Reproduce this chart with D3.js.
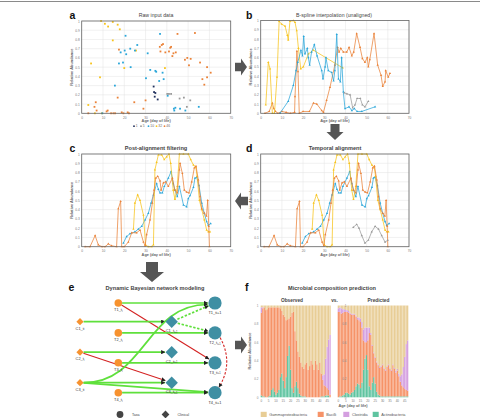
<!DOCTYPE html>
<html><head><meta charset="utf-8">
<script src="https://cdn.jsdelivr.net/npm/d3@7"></script>
<style>body{margin:0;background:#fff}svg{display:block}text{font-family:"Liberation Sans",Arial,sans-serif}</style>
</head><body><svg id="c" width="480" height="418"></svg>
<script>
// ---------------- DATA ----------------
const xTicks = [0,10,20,30,40,50,60,70];
const yTicks = [0,0.1,0.2,0.3,0.4,0.5,0.6,0.7,0.8,0.9,1];
const seriesNames = ["1","5","10","32","46"];

// panel a: raw input points [day, abundance]
const rawS1 = [[33.8,0.29],[34,0.23],[34.6,0.22],[34.3,0.18],[35.7,0.15]];
const rawS5 = [[40.2,0.21],[41,0.21],[42,0.21],[46,0.16],[48,0.17],[49.4,0.07],[51,0.14]];
const rawS10 = [[9.7,0],[15.6,0.3],[17.5,0.54],[18.3,0.66],[19.4,0.55],[20.2,0.68],[20.6,0.84],[20.9,0.64],[22.8,0.7],[23,0.5],[25,0.68],[26.1,0.74],[30.2,0.38],[31,0.65],[32.2,0.47],[34.6,0.46],[35,0.45],[36.4,0.35],[36.8,0.86],[38,0.44],[38.5,0.37],[40.4,0.19],[43.3,0.05],[43.5,0.03],[44,0.06],[46.2,0.05],[48.7,0.03],[55,0.07]];
const rawS32 = [[3.1,0.09],[4.4,0.54],[8.6,0.39],[9.1,1.0],[10.9,0.97],[12.4,0.94],[14.6,0.99],[16.9,0.96],[17.9,0.91],[14.6,0.79],[20,0.49],[25.5,0.68],[39.1,0.49],[6.2,0.0],[9.5,0.0]];
const rawS46 = [[3.1,0],[6,0.07],[6.6,0.12],[7,0.03],[11.7,0.02],[12.2,0.03],[13.8,0],[14.9,0],[15.7,0],[16.9,0.17],[17.5,0.69],[18.8,0.01],[19.6,0],[21.6,0.01],[22.2,0],[24.7,0.12],[29,0.05],[30,0.14],[36.7,0.72],[37,0.67],[37.6,0.74],[38.2,0.75],[39.3,0.66],[41,0.67],[41.6,0.71],[42,0.72],[42.6,0.62],[43.1,0.65],[44.2,0.66],[45,0.86],[48.5,0.58],[49.6,0.6],[50.4,0.52],[51.2,0.59],[53.2,0.87],[55.6,0.55],[56.7,0.37],[57.6,0.31],[58.9,0.39],[58.9,0.5],[60.6,0.44]];

// panel b: B-spline interpolation (unaligned)
const splineS5 = [[39.5,0.22],[40.7,0.21],[42.2,0.2],[43.4,0.06],[44.5,0.09],[45.5,0.16],[47,0.16],[48,0.09],[49.2,0.07],[50.8,0.13]];
const splineS10 = [[9.1,0],[13,0.13],[15.4,0.3],[16.7,0.46],[17.5,0.55],[19,0.68],[19.7,0.62],[20.3,0.83],[20.9,0.64],[22,0.7],[22.5,0.6],[23.1,0.52],[24,0.66],[25.3,0.74],[26.6,0.62],[28.8,0.46],[29.4,0.37],[30.4,0.5],[30.8,0.6],[31.9,0.46],[33.5,0.44],[34.4,0.35],[35,0.46],[35.9,0.85],[36.7,0.37],[37.6,0.34],[38.2,0.6],[39,0.23],[39.8,0.05],[41.7,0.07],[43,0.03],[44.2,0.05],[45.5,0.02],[47.7,0.02],[54,0.07]];
const splineS32 = [[2.4,0.09],[3.6,0.55],[4.4,0.48],[5.5,0],[6.5,0],[7.7,0.39],[8.7,0.99],[9.9,0.96],[11.5,0.94],[12.6,0.84],[13,0.79],[13.8,0.99],[15.4,1],[16.2,0.98],[17,0.89],[17.8,0.7],[18.9,0.48],[20.1,0.5],[22.5,0.64],[24.9,0.68],[38.7,0.49]];
const splineS46 = [[2,0],[4,0.02],[5.5,0.11],[6.2,0.05],[7,0.02],[8,0],[10,0.02],[12,0.01],[14,0],[16,0.01],[16.2,0.18],[17.1,0.67],[17.6,0.45],[18.2,0],[20,0.02],[23,0.02],[24.9,0.11],[26.5,0.1],[28.8,0.03],[29.6,0.01],[31.1,0.14],[32.7,0.28],[35,0.52],[36.3,0.71],[37,0.66],[37.8,0.7],[39,0.66],[40.6,0.66],[41.7,0.71],[43,0.62],[43.9,0.66],[45.3,0.86],[46.9,0.71],[48,0.59],[49.2,0.55],[50.3,0.6],[50.8,0.5],[51.5,0.58],[53.5,0.86],[55.2,0.52],[56.8,0.41],[57.6,0.29],[58.7,0.34],[59,0.46],[60.2,0.39],[61,0.43]];

// panels c/d: aligned series
const alignedS5 = [[43.7,0.21],[45.3,0.24],[46.4,0.2],[47.7,0.12],[49.2,0.04],[50.8,0.07],[52.4,0.16],[54,0.22],[55.6,0.19],[57.1,0.12],[58.7,0.05],[60,0.07]];
const alignedS10 = [[19.6,0.04],[21.1,0.11],[22.7,0.14],[25,0.16],[26.6,0.19],[28.2,0.22],[29.8,0.29],[31.3,0.36],[32.6,0.47],[33.7,0.56],[35.2,0.68],[36,0.62],[36.8,0.58],[37.9,0.58],[38.8,0.65],[40.7,0.74],[42,0.81],[43,0.68],[43.8,0.61],[44.9,0.54],[45.9,0.65],[47.8,0.45],[49.3,0.43],[50.1,0.52],[50.9,0.55],[52.5,0.64],[53.2,0.74],[54,0.75],[55.1,0.66],[56.4,0.47],[57.6,0.36],[58.7,0.27],[59.5,0.23],[60.6,0.25]];
const alignedS32 = [[24.3,0.19],[25,0.47],[26.3,0.56],[27.4,0.5],[29,0.34],[30,0.02],[31.3,0],[32.9,0],[33.7,0.02],[34.4,0.83],[35.2,0.91],[36,0.99],[37.6,0.99],[38.8,0.94],[39.9,0.97],[41,1],[41.8,0.9],[43,0.61],[43.8,0.51],[44.9,0.65],[45.9,1],[47.8,1],[50.1,1],[51.2,0.94],[52.5,0.88],[53.6,0.86],[54.2,0.76],[55.3,0.5],[56.4,0.4],[57.6,0.29],[58.7,0.18],[59.5,0.16],[60.3,0.16]];
const alignedS46 = [[1.6,0],[3.9,0],[6.3,0.12],[7.8,0.02],[9.5,0],[11,0],[12.5,0.03],[14,0.01],[16.4,0],[17.2,0.41],[18.3,0.49],[18.8,0],[20,0],[21.9,0.05],[23.5,0.15],[25.8,0.15],[27.4,0.18],[29,0.05],[29.8,0.01],[30.5,0.13],[32.1,0.29],[33.2,0.47],[34,0.61],[34.8,0.74],[35.7,0.76],[36.8,0.71],[37.3,0.61],[38.4,0.69],[39.5,0.7],[40.7,0.65],[42.6,0.74],[43.8,0.61],[44.9,0.58],[45.9,0.83],[46.2,0.9],[47.3,0.79],[48.2,0.61],[49.3,0.59],[50.4,0.58],[51.7,0.7],[52.9,0.85],[53.7,0.87],[54.8,0.72],[55.6,0.54],[56.4,0.41],[57.6,0.36],[58.6,0.33],[59.2,0.5],[59.7,0.22],[60,0]];

// panel e: network
const taxaNames = ["T1","T2","T3","T4"];
const clinicalNames = ["C1","C2","C3"];
const edges = [
  ["T1_t","T1_t1","pos"],["T1_t","T3_t1","neg"],["C1_t","C1_t1","pos"],["T2_t","T2_t1","pos"],
  ["C2_t","C2_t1","pos"],["C2_t","C3_t1","neg"],["T3_t","T3_t1","pos"],["C3_t","C3_t1","pos"],
  ["C3_t","T4_t1","pos"],["C3_t","T1_t1","posCurve"],["T4_t","T4_t1","pos"],
  ["C1_t1","T1_t1","posDash"],["C1_t1","T2_t1","posDash"],["T2_t1","T4_t1","negDashCurve"]
];

// panel f: composition
const days = [0,1,2,3,4,5,6,7,8,9,10,11,12,13,14,15,16,17,18,19,20,21,22,23,24,25,26,27,28,29,30,31,32,33,34,35,36,37,38,39,40,41,42,43,44,45,46,47];
const dayTicks = [0,5,10,15,20,25,30,35,40,45];
const fTicks = [0,0.2,0.4,0.6,0.8,1];
const taxaClasses = ["Gammaproteobacteria","Bacilli","Clostridia","Actinobacteria"];
const obsActino =    [.02,.01,.01,.00,.00,.01,.02,.08,.10,.06,.03,.05,.08,.22,.26,.18,.10,.22,.45,.56,.30,.10,.05,.12,.17,.10,.04,.02,.01,.01,.01,.00,.00,.00,.00,.00,.00,.00,.00,.00,.00,.01,.01,.01,.02,.02,.02,.00];
const obsBacilli =   [.90,.96,.97,.95,.96,.97,.96,.90,.88,.92,.95,.93,.90,.75,.68,.72,.78,.62,.40,.30,.58,.82,.88,.60,.45,.40,.40,.36,.32,.30,.35,.38,.30,.34,.40,.36,.30,.40,.36,.30,.38,.25,.18,.12,.10,.08,.06,.03];
const obsClostridia =[.06,.01,.00,.00,.00,.00,.00,.00,.00,.00,.00,.00,.00,.00,.00,.00,.00,.00,.00,.00,.00,.00,.00,.00,.00,.00,.00,.00,.00,.00,.00,.00,.00,.00,.00,.00,.00,.00,.00,.00,.00,.00,.05,.12,.30,.45,.55,.65];
const obsGamma =     [.02,.02,.02,.05,.04,.02,.02,.02,.02,.02,.02,.02,.02,.03,.06,.10,.12,.16,.15,.14,.12,.08,.07,.28,.38,.50,.56,.62,.67,.69,.64,.62,.70,.66,.60,.64,.70,.60,.64,.70,.62,.74,.76,.75,.58,.45,.37,.32];
const predActino =    [.00,.01,.01,.02,.03,.05,.05,.04,.03,.05,.06,.08,.12,.15,.14,.10,.16,.30,.42,.46,.30,.12,.08,.16,.22,.15,.06,.03,.02,.01,.01,.01,.01,.01,.01,.01,.01,.01,.01,.01,.01,.01,.01,.01,.01,.01,.01,.01];
const predBacilli =   [.93,.92,.90,.90,.90,.88,.88,.88,.88,.85,.84,.82,.76,.70,.70,.72,.60,.32,.18,.14,.32,.58,.60,.40,.26,.28,.32,.32,.30,.32,.34,.30,.28,.32,.34,.30,.28,.34,.30,.26,.28,.22,.16,.12,.10,.08,.07,.06];
const predClostridia =[.04,.05,.06,.04,.03,.02,.02,.02,.01,.01,.01,.01,.01,.02,.03,.04,.06,.12,.16,.16,.14,.06,.02,.01,.01,.01,.01,.01,.01,.01,.01,.01,.01,.01,.01,.01,.01,.01,.01,.02,.02,.03,.06,.12,.22,.35,.50,.55];
const predGamma =     [.03,.02,.03,.04,.04,.05,.05,.06,.08,.09,.09,.09,.11,.13,.13,.14,.18,.26,.24,.24,.24,.24,.30,.43,.51,.56,.61,.64,.67,.66,.64,.68,.70,.66,.64,.68,.70,.64,.68,.71,.69,.74,.77,.75,.67,.56,.42,.38];

// ---------------- STYLE ----------------
const colors = {"1":"#1f2f5c","5":"#9a9a9a","10":"#2aa6d9","32":"#f7c31a","46":"#ea8238"};
const classColors = {Gammaproteobacteria:"#e8cd95",Bacilli:"#f69368",Clostridia:"#d49fe0",Actinobacteria:"#5fc4a0"};
const svg = d3.select("#c");
svg.append("line").attr("x1",0).attr("x2",480).attr("y1",1.5).attr("y2",1.5).attr("stroke","#8a8a8a").attr("stroke-width",1.2);

function letter(t,x,y){svg.append("text").attr("x",x).attr("y",y).attr("font-size",10.5).attr("font-weight","bold").attr("fill","#111").text(t);}
function title(t,x,y,bold){svg.append("text").attr("x",x).attr("y",y).attr("text-anchor","middle").attr("font-size",bold?5.6:5.2).attr("font-weight",bold?"bold":"normal").attr("fill","#444").text(t);}

function plotFrame(box){
  const x = d3.scaleLinear([0,70],[box.x0,box.x1]);
  const y = d3.scaleLinear([0,1],[box.y1,box.y0]);
  const g = svg.append("g");
  g.append("rect").attr("x",box.x0).attr("y",box.y0).attr("width",box.x1-box.x0).attr("height",box.y1-box.y0).attr("fill","#fff");
  g.selectAll(".gx").data(xTicks).join("line").attr("x1",d=>x(d)).attr("x2",d=>x(d)).attr("y1",box.y0).attr("y2",box.y1).attr("stroke","#e2e2e2").attr("stroke-width",0.5);
  g.selectAll(".gy").data(yTicks).join("line").attr("y1",d=>y(d)).attr("y2",d=>y(d)).attr("x1",box.x0).attr("x2",box.x1).attr("stroke","#e2e2e2").attr("stroke-width",0.5);
  const ax = g.append("g").attr("transform",`translate(0,${box.y1})`).call(d3.axisBottom(x).tickValues(xTicks).tickSize(0).tickPadding(3));
  ax.select(".domain").remove();
  ax.selectAll("text").attr("font-size",3.2).attr("fill","#777");
  const ay = g.append("g").attr("transform",`translate(${box.x0},0)`).call(d3.axisLeft(y).tickValues(yTicks).tickSize(0).tickPadding(2).tickFormat(d=>String(d)));
  ay.select(".domain").remove();
  ay.selectAll("text").attr("font-size",3.2).attr("fill","#777");
  g.append("text").attr("x",(box.x0+box.x1)/2).attr("y",box.y1+9).attr("text-anchor","middle").attr("font-size",3.9).attr("font-weight","bold").attr("fill","#666").text("Age (day of life)");
  g.append("text").attr("transform",`translate(${box.x0-8.5},${(box.y0+box.y1)/2}) rotate(-90)`).attr("text-anchor","middle").attr("font-size",3.9).attr("font-weight","bold").attr("fill","#666").text("Relative Abundance");
  const border = svg.append("rect").attr("x",box.x0).attr("y",box.y0).attr("width",box.x1-box.x0).attr("height",box.y1-box.y0).attr("fill","none").attr("stroke","#666").attr("stroke-width",0.8);
  return {x,y,g,border};
}

function lines(p, list, curve){
  list.forEach(([name,data])=>{
    const ln = d3.line().x(d=>p.x(d[0])).y(d=>p.y(d[1])).curve(curve||d3.curveLinear);
    p.g.append("path").attr("d",ln(data)).attr("fill","none").attr("stroke",colors[name]).attr("stroke-width",0.75);
    p.g.selectAll(null).data(data).join("path").attr("transform",d=>`translate(${p.x(d[0])},${p.y(d[1])})`)
      .attr("d",d3.symbol(d3.symbolTriangle,2.2)).attr("fill",colors[name]);
  });
  p.border.raise();
}

// ---------- panel a ----------
letter("a",69.5,18.5); title("Raw input data",156,16.5,false);
const pa = plotFrame({x0:81.7,x1:230.7,y0:21,y1:113.3});
[["46",rawS46],["32",rawS32],["10",rawS10],["5",rawS5],["1",rawS1]].forEach(([name,data])=>{
  pa.g.selectAll(null).data(data).join("rect").attr("x",d=>pa.x(d[0])-0.9).attr("y",d=>pa.y(d[1])-0.9).attr("width",1.8).attr("height",1.8).attr("fill",colors[name]);
});
pa.border.raise();
// legend a
const legX = d3.scalePoint(seriesNames,[134,162]);
const legOff = {"1":0,"5":0,"10":0.5,"32":1.5,"46":2.5};
seriesNames.forEach(n=>{
  const lx = legX(n)+legOff[n];
  svg.append("circle").attr("cx",lx).attr("cy",126.2).attr("r",0.9).attr("fill",colors[n]);
  svg.append("text").attr("x",lx+1.8).attr("y",127.4).attr("font-size",3.3).attr("fill","#666").text(n);
});

// ---------- panel b ----------
letter("b",246,18.5); title("B-spline interpolation (unaligned)",334,16.5,false);
const pb = plotFrame({x0:260.7,x1:409,y0:20.5,y1:113.3});
lines(pb,[["46",splineS46],["32",splineS32],["10",splineS10],["5",splineS5]]);

// ---------- panel c ----------
letter("c",69.5,152); title("Post-alignment filtering",156,149.5,true);
const pc = plotFrame({x0:81.7,x1:230.7,y0:154,y1:246.7});
lines(pc,[["10",alignedS10],["32",alignedS32],["46",alignedS46]]);

// ---------- panel d ----------
letter("d",246,152); title("Temporal alignment",335,149.5,true);
const pd = plotFrame({x0:260.7,x1:409,y0:154,y1:246.7});
lines(pd,[["10",alignedS10],["32",alignedS32],["46",alignedS46],["5",alignedS5]]);

// ---------- block arrows ----------
function blockArrow(cx,cy,dir,len,shaftW,headW,headL,fill){
  const p = d3.path();
  const pts = [[0,-shaftW],[len-headL,-shaftW],[len-headL,-headW],[len,0],[len-headL,headW],[len-headL,shaftW],[0,shaftW]];
  const rot = {right:0,down:90,left:180}[dir];
  const a = rot*Math.PI/180;
  pts.forEach((q,i)=>{const x=cx+q[0]*Math.cos(a)-q[1]*Math.sin(a), y=cy+q[0]*Math.sin(a)+q[1]*Math.cos(a); i?p.lineTo(x,y):p.moveTo(x,y);});
  p.closePath();
  svg.append("path").attr("d",p.toString()).attr("fill",fill||"#555");
}
blockArrow(235,67,"right",12,4.2,8.5,6);
blockArrow(335,124,"down",16,4.5,8.5,8);
blockArrow(248,201,"left",13,4.2,8.5,6);
blockArrow(152,262,"down",20,6,12,10);
blockArrow(235,345,"right",12,4.2,8.5,6);

// ---------- panel e ----------
letter("e",68.5,291); title("Dynamic Bayesian network modeling",155,289.5,true);
const colX = d3.scaleOrdinal(["C_t","T_t","C_t1","T_t1"],[80,118.3,171.7,215]);
const taxaY = d3.scalePoint(taxaNames,[303,392.7]);
const clinY = d3.scalePoint(clinicalNames,[321.7,382.7]);
const nodes = {};
taxaNames.forEach(n=>{nodes[n+"_t"]={x:colX("T_t"),y:taxaY(n),r:3.8,kind:"taxa",t:0,name:n};nodes[n+"_t1"]={x:colX("T_t1"),y:taxaY(n),r:6.6,kind:"taxa",t:1,name:n};});
clinicalNames.forEach(n=>{nodes[n+"_t"]={x:colX("C_t"),y:clinY(n),r:3.6,kind:"clin",t:0,name:n};nodes[n+"_t1"]={x:colX("C_t1"),y:clinY(n),r:6.2,kind:"clin",t:1,name:n};});

const defs = svg.append("defs");
defs.append("marker").attr("id","ah").attr("viewBox","0 0 10 10").attr("refX",9).attr("refY",5).attr("markerWidth",4.2).attr("markerHeight",4.2)
  .attr("markerUnits","userSpaceOnUse").attr("orient","auto").append("path").attr("d","M0,0L10,5L0,10z").attr("fill","#222");
const eg = svg.append("g");
edges.forEach(([s,t,type])=>{
  const a = nodes[s], b = nodes[t];
  let d;
  const green = "#5fe03c", red = "#d42323";
  let stroke = type.startsWith("pos")?green:red;
  if(type==="posCurve"){
    d = d3.linkHorizontal()({source:[a.x+a.r,a.y],target:[b.x-b.r-1,b.y+1.5]});
  } else if(type==="negDashCurve"){
    const p = d3.path(); p.moveTo(a.x+5, a.y+4.5); p.quadraticCurveTo(a.x+19,(a.y+b.y)/2, b.x+4, b.y-5.5); d=p.toString();
  } else {
    const dx=b.x-a.x, dy=b.y-a.y, L=Math.hypot(dx,dy);
    const sx=a.x+dx/L*a.r, sy=a.y+dy/L*a.r, ex=b.x-dx/L*(b.r+0.6), ey=b.y-dy/L*(b.r+0.6);
    d = `M${sx},${sy}L${ex},${ey}`;
  }
  eg.append("path").attr("d",d).attr("fill","none").attr("stroke",stroke)
    .attr("stroke-width",type.startsWith("pos")?1.7:1.1)
    .attr("stroke-dasharray",type.includes("Dash")?"2.4,1.6":null)
    .attr("marker-end","url(#ah)");
});
const ng = svg.append("g");
Object.values(nodes).forEach(n=>{
  const fill = n.t===0?"#f7922f":"#3f8fa3";
  if(n.kind==="taxa") ng.append("circle").attr("cx",n.x).attr("cy",n.y).attr("r",n.r).attr("fill",fill);
  else ng.append("path").attr("d",`M${n.x},${n.y-n.r}L${n.x+n.r},${n.y}L${n.x},${n.y+n.r}L${n.x-n.r},${n.y}Z`).attr("fill",fill);
  const tx = ng.append("text").attr("x",n.x).attr("y",n.y+n.r+4.2).attr("text-anchor","middle").attr("font-size",3.9).attr("fill","#333");
  tx.append("tspan").text(n.name+"_t");
  if(n.t===0){ tx.append("tspan").attr("font-size",2.6).attr("dy",0.8).text("i"); }
  else if(n.name==="T1"||n.name==="T4"){ tx.append("tspan").text("i+1"); }
  else { tx.append("tspan").attr("font-size",2.6).attr("dy",0.8).text("i+1"); }
});
// legend e
svg.append("circle").attr("cx",120).attr("cy",414.5).attr("r",3.4).attr("fill","#444");
svg.append("text").attr("x",132).attr("y",415.8).attr("font-size",3.6).attr("fill","#444").text("Taxa");
svg.append("path").attr("d","M165.5,410.6L169.4,414.5L165.5,418.4L161.6,414.5Z").attr("fill","#444");
svg.append("text").attr("x",177.5).attr("y",415.8).attr("font-size",3.6).attr("fill","#444").text("Clinical");

// ---------- panel f ----------
letter("f",245,291); title("Microbial composition prediction",332,289.5,true);
const stackKeys = ["Actinobacteria","Bacilli","Clostridia","Gammaproteobacteria"];
const fy = d3.scaleLinear([0,1],[397.3,305.5]);
function barPanel(x0,x1,act,bac,clo,gam,label,lx,yLabX){
  const x = d3.scaleBand(days,[x0,x1]).paddingInner(0.14);
  const rows = days.map((d,i)=>({day:d,Actinobacteria:act[i],Bacilli:bac[i],Clostridia:clo[i],Gammaproteobacteria:gam[i]}));
  const st = d3.stack().keys(stackKeys)(rows);
  const g = svg.append("g");
  st.forEach(layer=>{
    g.selectAll(null).data(layer).join("rect").attr("x",d=>x(d.data.day)).attr("width",x.bandwidth())
      .attr("y",d=>fy(d[1])).attr("height",d=>Math.max(0,fy(d[0])-fy(d[1]))).attr("fill",classColors[layer.key]);
  });
  const ax = g.append("g").attr("transform","translate(0,397.3)").call(d3.axisBottom(x).tickValues(dayTicks).tickSize(0).tickPadding(2.5));
  ax.select(".domain").remove(); ax.selectAll("text").attr("font-size",3).attr("fill","#777");
  const ay = g.append("g").attr("transform",`translate(${yLabX},0)`).call(d3.axisLeft(fy).tickValues(fTicks).tickSize(0).tickPadding(0).tickFormat(d=>String(d)));
  ay.select(".domain").remove(); ay.selectAll("text").attr("font-size",3).attr("fill","#888");
  svg.append("text").attr("x",lx).attr("y",301.5).attr("text-anchor","middle").attr("font-size",4.8).attr("font-weight","bold").attr("fill","#444").text(label);
}
barPanel(260.7,330.7,obsActino,obsBacilli,obsClostridia,obsGamma,"Observed",292,258.5);
barPanel(337.7,408.3,predActino,predBacilli,predClostridia,predGamma,"Predicted",378.5,346.5);
svg.append("text").attr("x",334.5).attr("y",301.5).attr("text-anchor","middle").attr("font-size",4.8).attr("font-weight","bold").attr("fill","#444").text("vs.");
svg.append("text").attr("x",353).attr("y",407).attr("text-anchor","middle").attr("font-size",3.9).attr("font-weight","bold").attr("fill","#666").text("Age (day of life)");
svg.append("text").attr("transform","translate(251,351) rotate(-90)").attr("text-anchor","middle").attr("font-size",3.9).attr("font-weight","bold").attr("fill","#666").text("Relative Abundance");
const legPos = d3.scaleOrdinal(taxaClasses,[260.7,317.7,343.3,372.7]);
taxaClasses.forEach(c=>{
  svg.append("rect").attr("x",legPos(c)).attr("y",411.8).attr("width",6).attr("height",5.2).attr("fill",classColors[c]);
  svg.append("text").attr("x",legPos(c)+8.6).attr("y",416.2).attr("font-size",3.8).attr("fill","#555").text(c);
});
</script></body></html>
